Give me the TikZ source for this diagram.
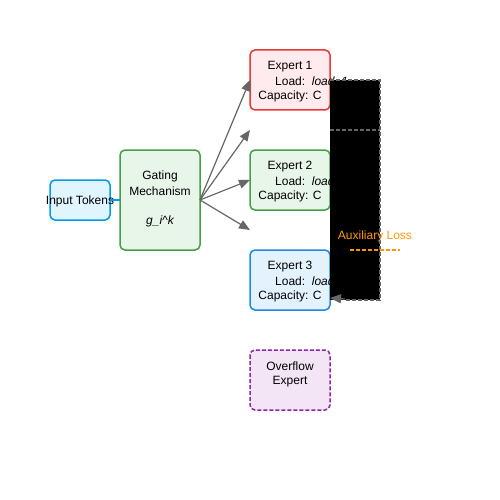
\documentclass[tikz,border=0pt]{standalone}
\usepackage{fontspec}
\setmainfont{Liberation Sans}
\usetikzlibrary{arrows.meta}
\definecolor{redS}{HTML}{E53935}\definecolor{redF}{HTML}{FFEBEE}
\definecolor{grnS}{HTML}{43A047}\definecolor{grnF}{HTML}{E8F5E9}
\definecolor{bluS}{HTML}{1E88E5}\definecolor{bluF}{HTML}{E3F2FD}
\definecolor{inS}{HTML}{039BE5}\definecolor{inF}{HTML}{E1F5FE}
\definecolor{purS}{HTML}{8E24AA}\definecolor{purF}{HTML}{F3E5F5}
\definecolor{arr}{HTML}{666666}
\definecolor{orng}{HTML}{FF9800}
\tikzset{
  box/.style={draw, line width=1.5pt, rounded corners=5pt, inner sep=0pt},
  txt/.style={font=\fontsize{12}{14}\selectfont, inner sep=0pt},
  conn/.style={draw=arr, line width=1.2pt, -{Triangle[length=11pt,width=9pt]}},
}
\begin{document}
\begin{tikzpicture}[x=1pt,y=-1pt]
\useasboundingbox (0,0) rectangle (500,500);
% boxes
\draw[box, draw=inS, fill=inF] (50,180) rectangle (110,220);
\node[txt] (in) at (80,201) {Input Tokens};
\coordinate (inR) at (110,200);
\coordinate (gL) at (120,200);
\draw[box, draw=grnS, fill=grnF] (120,150) rectangle (200,250);
\node[txt] (g1) at (160,176.5) {Gating};
\node[txt] (g2) at (160,191.5) {Mechanism};
\node[txt] (g3) at (160,221) {\itshape g\_i\^{}k};
\coordinate (gR) at (200,200);
\draw[inS, line width=1.5pt] (inR) -- (gL);

\draw[box, draw=redS, fill=redF] (250,50) rectangle (330,110);
\node[txt] (e1a) at (290,66.5) {Expert 1};
\node[txt, anchor=west] (e1b) at (275,81.5) {Load:\ \ \itshape load\_1};
\node[txt] (e1c) at (290,96.5) {Capacity: C};

\draw[box, draw=grnS, fill=grnF] (250,150) rectangle (330,210);
\node[txt] (e2a) at (290,166.5) {Expert 2};
\node[txt, anchor=west] (e2b) at (275,181.5) {Load:\ \ \itshape load\_2};
\node[txt] (e2c) at (290,196.5) {Capacity: C};

\draw[box, draw=bluS, fill=bluF] (250,250) rectangle (330,310);
\node[txt] (e3a) at (290,266.5) {Expert 3};
\node[txt, anchor=west] (e3b) at (275,281.5) {Load:\ \ \itshape load\_3};
\node[txt] (e3c) at (290,296.5) {Capacity: C};

\draw[box, draw=purS, fill=purF, dashed, dash pattern=on 4pt off 2pt] (250,350) rectangle (330,410);
\node[txt] (ov1) at (290,366.5) {Overflow};
\node[txt] (ov2) at (290,381.5) {Expert};

% arrows from gating
\coordinate (t1) at (250,80);
\coordinate (t2) at (250,130);
\coordinate (t3) at (250,180);
\coordinate (t4) at (250,230);
\draw[conn] (gR) -- (t1);
\draw[conn] (gR) -- (t2);
\draw[conn] (gR) -- (t3);
\draw[conn] (gR) -- (t4);

% black region with dashed outlines
\fill[black] (330,80) rectangle (380,300);
\coordinate (b1) at (330,80);
\coordinate (b2) at (380,80);
\coordinate (b3) at (380,300);
\coordinate (b4) at (330,298);
\coordinate (c1) at (330,130);
\coordinate (c2) at (380,130);
\draw[arr, dashed, dash pattern=on 4pt off 2pt, line width=1.2pt] (b1) -- (b2) -- (b3) -- (345,300);
\draw[arr, dashed, dash pattern=on 4pt off 2pt, line width=1.2pt] (c1) -- (c2);
\draw[arr, line width=1.2pt, -{Triangle[length=11pt,width=9pt]}] (345,299) -- (b4);

% auxiliary loss
\node[txt, text=orng] (aux) at (375,236.5) {Auxiliary Loss};
\coordinate (a1) at (350,250);
\coordinate (a2) at (400,250);
\draw[orng, line width=1.5pt, dashed, dash pattern=on 4pt off 2pt] (a1) -- (a2);
\end{tikzpicture}
\end{document}
